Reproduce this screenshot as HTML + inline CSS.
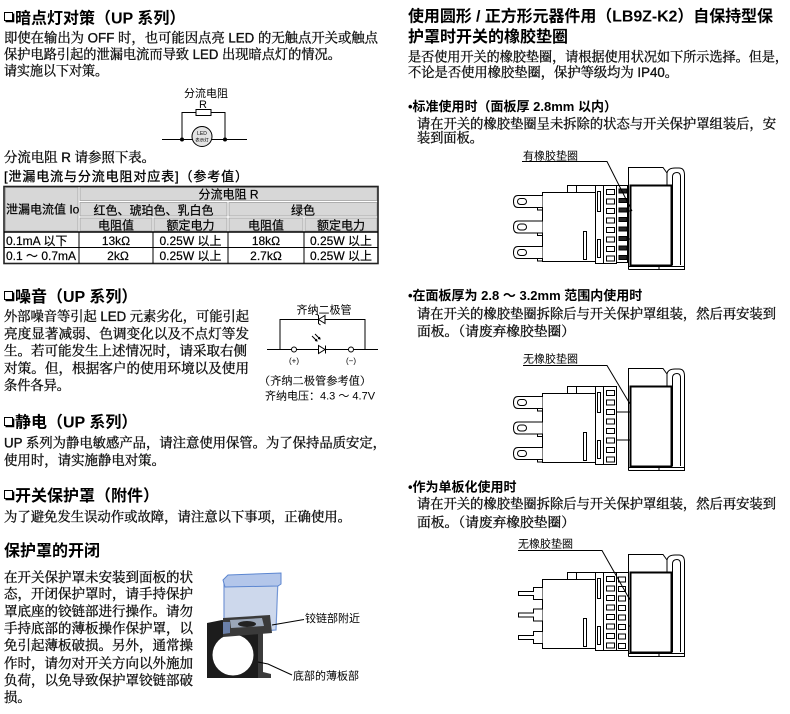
<!DOCTYPE html>
<html><head><meta charset="utf-8">
<style>
html,body{margin:0;padding:0;background:#fff;}
svg{display:block;}
.b{font-family:"Liberation Sans","Noto Serif CJK SC",serif;font-size:13.4px;fill:#111;stroke:#111;stroke-width:0.35px;}
.h{font-family:"Liberation Sans","Noto Sans CJK SC",sans-serif;font-size:16px;font-weight:bold;fill:#000;}
.s{font-family:"Liberation Sans","Noto Sans CJK SC",sans-serif;font-size:13px;font-weight:bold;fill:#000;}
.l{font-family:"Liberation Sans","Noto Sans CJK SC",sans-serif;font-size:11px;fill:#000;}
.t{font-family:"Liberation Sans","Noto Sans CJK SC",sans-serif;font-size:12px;fill:#000;stroke:#000;stroke-width:0.2px;}
.m{text-anchor:middle;}
</style></head><body>
<svg width="790" height="714" viewBox="0 0 790 714" xmlns="http://www.w3.org/2000/svg">
<rect width="790" height="714" fill="#fff"/>

<!-- ===== LEFT COLUMN ===== -->
<g fill="#fff" stroke="#000">
 <rect x="4.5" y="12.5" width="8" height="8"/><path d="M13.5,13.5 V21.5 H5.5" fill="none" stroke-width="1.6"/>
 <rect x="4.5" y="291.5" width="8" height="8"/><path d="M13.5,292.5 V300.5 H5.5" fill="none" stroke-width="1.6"/>
 <rect x="4.5" y="417.5" width="8" height="8"/><path d="M13.5,418.5 V426.5 H5.5" fill="none" stroke-width="1.6"/>
 <rect x="4.5" y="490.5" width="8" height="8"/><path d="M13.5,491.5 V499.5 H5.5" fill="none" stroke-width="1.6"/>
</g>

<text class="h" x="15" y="23.5">暗点灯对策（UP 系列）</text>
<text class="b" x="4" y="42.6" textLength="374" lengthAdjust="spacingAndGlyphs">即使在输出为 OFF 时，也可能因点亮 LED 的无触点开关或触点</text>
<text class="b" x="4" y="59.1" textLength="337" lengthAdjust="spacingAndGlyphs">保护电路引起的泄漏电流而导致 LED 出现暗点灯的情况。</text>
<text class="b" x="4" y="75.6" textLength="104" lengthAdjust="spacingAndGlyphs">请实施以下对策。</text>

<!-- shunt resistor circuit -->
<text class="l m" x="206" y="97">分流电阻</text>
<text class="l m" x="203" y="108">R</text>
<g stroke="#000" stroke-width="1" fill="none">
 <path d="M162,139.5 H247"/>
 <path d="M182,139.5 V112.5 H196 M211,112.5 H225 V139.5"/>
 <rect x="196" y="109.5" width="15" height="6" fill="#fff"/>
 <circle cx="202" cy="136.5" r="10" fill="#e4e4e4"/>
</g>
<circle cx="182" cy="139.5" r="2" fill="#000"/>
<circle cx="225" cy="139.5" r="2" fill="#000"/>
<text x="202" y="135" font-size="5" text-anchor="middle" font-family="Liberation Sans, sans-serif">LED</text>
<text x="202" y="141.5" font-size="4.5" text-anchor="middle" font-family="Liberation Sans, Noto Sans CJK SC, sans-serif">表示灯</text>

<text class="b" x="4" y="162" textLength="151" lengthAdjust="spacingAndGlyphs">分流电阻 R 请参照下表。</text>
<text x="4" y="181" font-family="Liberation Sans, Noto Sans CJK SC, sans-serif" font-size="13" fill="#000" stroke="#000" stroke-width="0.3" textLength="244" lengthAdjust="spacing">[泄漏电流与分流电阻对应表]（参考值）</text>

<!-- table -->
<g>
 <rect x="4" y="186.5" width="374" height="77" fill="#fff"/>
 <g fill="#d7d7d7" stroke="#a0a0a0" stroke-width="0.8">
  <rect x="5.5" y="187.5" width="72.5" height="43.5"/>
  <rect x="80" y="187.5" width="297" height="13"/>
  <rect x="80" y="202.5" width="147" height="13.5"/>
  <rect x="229" y="202.5" width="148" height="13.5"/>
  <rect x="80" y="218" width="72" height="13"/>
  <rect x="154" y="218" width="73" height="13"/>
  <rect x="229" y="218" width="74" height="13"/>
  <rect x="305" y="218" width="72" height="13"/>
 </g>
 <g stroke="#000" fill="none">
  <rect x="4" y="186.5" width="374" height="77" stroke="#222" stroke-width="1.6"/>
  <line x1="4" y1="232" x2="378" y2="232" stroke-width="1.5"/>
  <line x1="4" y1="247.5" x2="378" y2="247.5" stroke-width="1"/>
  <line x1="79" y1="232" x2="79" y2="263.5"/>
  <line x1="153" y1="232" x2="153" y2="263.5"/>
  <line x1="228" y1="232" x2="228" y2="263.5"/>
  <line x1="304" y1="232" x2="304" y2="263.5"/>
 </g>
 <text class="t" x="6" y="213.5">泄漏电流值 Io</text>
 <text class="t m" x="228.5" y="198.3">分流电阻 R</text>
 <text class="t m" x="153.5" y="214.3">红色、琥珀色、乳白色</text>
 <text class="t m" x="303" y="214.3">绿色</text>
 <text class="t m" x="116" y="229.6">电阻值</text>
 <text class="t m" x="190.5" y="229.6">额定电力</text>
 <text class="t m" x="266" y="229.6">电阻值</text>
 <text class="t m" x="341" y="229.6">额定电力</text>
 <text class="t" x="6" y="244.8">0.1mA 以下</text>
 <text class="t m" x="116" y="244.8">13kΩ</text>
 <text class="t m" x="190.5" y="244.8">0.25W 以上</text>
 <text class="t m" x="266" y="244.8">18kΩ</text>
 <text class="t m" x="341" y="244.8">0.25W 以上</text>
 <text class="t" x="6" y="259.8">0.1 ～ 0.7mA</text>
 <text class="t m" x="118" y="259.8">2kΩ</text>
 <text class="t m" x="190.5" y="259.8">0.25W 以上</text>
 <text class="t m" x="266" y="259.8">2.7kΩ</text>
 <text class="t m" x="341" y="259.8">0.25W 以上</text>
</g>

<!-- noise -->
<text class="h" x="15" y="302">噪音（UP 系列）</text>
<text class="b" x="4" y="321" textLength="245" lengthAdjust="spacingAndGlyphs">外部噪音等引起 LED 元素劣化，可能引起</text>
<text class="b" x="4" y="338.5" textLength="245" lengthAdjust="spacingAndGlyphs">亮度显著减弱、色调变化以及不点灯等发</text>
<text class="b" x="4" y="355.5" textLength="243" lengthAdjust="spacingAndGlyphs">生。若可能发生上述情况时，请采取右侧</text>
<text class="b" x="4" y="373" textLength="245" lengthAdjust="spacingAndGlyphs">对策。但，根据客户的使用环境以及使用</text>
<text class="b" x="4" y="390" textLength="66" lengthAdjust="spacingAndGlyphs">条件各异。</text>

<!-- zener circuit -->
<text class="l m" x="324" y="313.5">齐纳二极管</text>
<g stroke="#000" stroke-width="1" fill="none">
 <path d="M267,349.5 H378"/>
 <path d="M280,349.5 V319.5 H365 V349.5"/>
 <polygon points="318.5,319.5 325,315.5 325,323.5" fill="#fff"/>
 <path d="M316.5,314 L318.5,315.5 V323.5 L320.5,325"/>
 <polygon points="318.5,345.5 318.5,353.5 325,349.5" fill="#fff"/>
 <path d="M325.5,345.5 V353.5"/>
 <path d="M312,336 L317,341 M315,334 L320,339"/>
 <path d="M315,340.5 L317,341 L316.5,339 M318,338.5 L320,339 L319.5,337"/>
 <circle cx="294" cy="349.5" r="2.5" fill="#fff"/>
 <circle cx="351" cy="349.5" r="2.5" fill="#fff"/>
</g>
<text x="294" y="363.5" font-size="8" text-anchor="middle" font-family="Liberation Sans, sans-serif">(+)</text>
<text x="351" y="363.5" font-size="8" text-anchor="middle" font-family="Liberation Sans, sans-serif">(−)</text>
<text class="b" x="259" y="384.7" style="font-size:11px;stroke-width:0.25px" textLength="112" lengthAdjust="spacing">（齐纳二极管参考值）</text>
<text class="l" x="265" y="399.5">齐纳电压：4.3 ～ 4.7V</text>

<!-- static -->
<text class="h" x="15" y="427.5">静电（UP 系列）</text>
<text class="b" x="4" y="447.5" textLength="382" lengthAdjust="spacingAndGlyphs">UP 系列为静电敏感产品，请注意使用保管。为了保持品质安定，</text>
<text class="b" x="4" y="465" textLength="161" lengthAdjust="spacingAndGlyphs">使用时，请实施静电对策。</text>

<!-- cover -->
<text class="h" x="15" y="501">开关保护罩（附件）</text>
<text class="b" x="4" y="521.5" textLength="347" lengthAdjust="spacingAndGlyphs">为了避免发生误动作或故障，请注意以下事项，正确使用。</text>

<text class="h" x="4" y="556">保护罩的开闭</text>
<text class="b" x="4" y="581.8" textLength="189" lengthAdjust="spacingAndGlyphs">在开关保护罩未安装到面板的状</text>
<text class="b" x="4" y="598.4" textLength="189" lengthAdjust="spacingAndGlyphs">态，开闭保护罩时，请手持保护</text>
<text class="b" x="4" y="616.1" textLength="189" lengthAdjust="spacingAndGlyphs">罩底座的铰链部进行操作。请勿</text>
<text class="b" x="4" y="632.8" textLength="189" lengthAdjust="spacingAndGlyphs">手持底部的薄板操作保护罩，以</text>
<text class="b" x="4" y="650.1" textLength="189" lengthAdjust="spacingAndGlyphs">免引起薄板破损。另外，通常操</text>
<text class="b" x="4" y="667.8" textLength="189" lengthAdjust="spacingAndGlyphs">作时，请勿对开关方向以外施加</text>
<text class="b" x="4" y="685.1" textLength="189" lengthAdjust="spacingAndGlyphs">负荷，以免导致保护罩铰链部破</text>
<text class="b" x="4" y="701.8">损。</text>

<!-- photo of cover -->
<g>
 <path d="M207,623 L222,620 L258,626 L258,678 L207,678 Z" fill="#1c1c1c"/>
 <circle cx="233" cy="655" r="20.5" fill="#fff"/>
 <path d="M258,626 L263,624 L263,672 L271,674 L271,678 L258,678 Z" fill="#3c3c3c"/>
 <path d="M224,582 L278,578 L276,630 L224,634 Z" fill="#cdd8ec" stroke="#7497d6" stroke-width="1.2"/>
 <path d="M223,580 L228,575 L281,573 L281,584 L278,586 L225,587 Z" fill="#b3c6ea" stroke="#5c86d0"/>
 <path d="M223,618 L270,615 L272,633 L223,637 Z" fill="#3a3a3a"/>
 <path d="M230,620 L262,618 L264,626 L231,628 Z" fill="#9aa6b8"/>
 <ellipse cx="247" cy="624" rx="9" ry="3" fill="#222"/>
 <path d="M223,622 L223,634 L230,633 L230,622 Z" fill="#6a7fa8"/>
</g>
<g stroke="#000" stroke-width="1" fill="none">
 <path d="M272,625 L304,619.5"/>
 <path d="M258,662 L268,664 L292,675"/>
</g>
<text class="l" x="305" y="622.2">铰链部附近</text>
<text class="l" x="293" y="679.7">底部的薄板部</text>

<!-- ===== RIGHT COLUMN ===== -->
<text class="h" x="408" y="21.6" textLength="365" lengthAdjust="spacing">使用圆形 / 正方形元器件用（LB9Z-K2）自保持型保</text>
<text class="h" x="408" y="42">护罩时开关的橡胶垫圈</text>
<text class="b" x="408" y="61.4" textLength="380" lengthAdjust="spacingAndGlyphs">是否使用开关的橡胶垫圈，请根据使用状况如下所示选择。但是，</text>
<text class="b" x="408" y="77.1" textLength="270" lengthAdjust="spacingAndGlyphs">不论是否使用橡胶垫圈，保护等级均为 IP40。</text>

<text class="s" x="408" y="111">•标准使用时（面板厚 2.8mm 以内）</text>
<text class="b" x="417" y="128.4" textLength="359" lengthAdjust="spacingAndGlyphs">请在开关的橡胶垫圈呈未拆除的状态与开关保护罩组装后，安</text>
<text class="b" x="417" y="142.6" textLength="66" lengthAdjust="spacingAndGlyphs">装到面板。</text>

<text class="l" x="523" y="159.6">有橡胶垫圈</text>

<text class="s" x="408" y="300">•在面板厚为 2.8 ～ 3.2mm 范围内使用时</text>
<text class="b" x="417" y="318.4" textLength="359" lengthAdjust="spacingAndGlyphs">请在开关的橡胶垫圈拆除后与开关保护罩组装，然后再安装到</text>
<text class="b" x="417" y="336" textLength="158" lengthAdjust="spacingAndGlyphs">面板。（请废弃橡胶垫圈）</text>

<text class="l" x="523" y="362.5">无橡胶垫圈</text>

<text class="s" x="408" y="491.3">•作为单板化使用时</text>
<text class="b" x="417" y="508.4" textLength="359" lengthAdjust="spacingAndGlyphs">请在开关的橡胶垫圈拆除后与开关保护罩组装，然后再安装到</text>
<text class="b" x="417" y="526.8" textLength="158" lengthAdjust="spacingAndGlyphs">面板。（请废弃橡胶垫圈）</text>

<text class="l" x="518" y="547.5">无橡胶垫圈</text>

<defs>
 <g id="dv" stroke="#000" stroke-width="1" fill="none">
  <path d="M667,374 Q668,369 675,369 H679 Q684.5,369 684.5,376 V470.5 H628.5" fill="#fff"/>
  <path d="M628.5,470.5 V368.5 H663 L667,374 V386" fill="#fff"/>
  <path d="M672.5,466 V378 Q672.5,373.5 677,373.5 Q680.5,373.5 680.5,378 V466"/>
  <path d="M628.5,467.5 H684.5 M659,467.5 V470.5"/>
  <rect x="630.5" y="386.5" width="41" height="80" stroke-width="2" fill="#fff"/>
  <rect x="595.5" y="386.5" width="21" height="78" fill="#fff"/>
  <line x1="603.5" y1="386.5" x2="603.5" y2="464.5"/>
  <rect x="606.5" y="390.5" width="8" height="5"/>
  <rect x="606.5" y="400" width="8" height="5"/>
  <rect x="606.5" y="409.5" width="8" height="5"/>
  <rect x="606.5" y="419" width="8" height="5"/>
  <rect x="606.5" y="428.5" width="8" height="5"/>
  <rect x="606.5" y="438" width="8" height="5"/>
  <rect x="606.5" y="447.5" width="8" height="5"/>
  <rect x="606.5" y="457" width="8" height="5"/>
  <line x1="616.5" y1="412" x2="630.5" y2="412"/>
  <line x1="616.5" y1="440" x2="630.5" y2="440"/>
  <rect x="542.5" y="393.5" width="53" height="69" fill="#fff"/>
  <path d="M567.5,393.5 V386.5 H595.5 M576.5,386.5 V393.5"/>
  <rect x="583.5" y="432.5" width="3" height="28"/>
  <rect x="597.5" y="392.5" width="3" height="20"/>
  <rect x="597.5" y="440.5" width="3" height="18"/>
 </g>
 <g id="tm" stroke="#000" stroke-width="1" fill="#fff">
  <path d="M542.5,396.5 H518 Q513.5,396.5 513.5,402.5 Q513.5,408.5 518,408.5 H542.5"/>
  <rect x="517.5" y="399.5" width="9" height="6" rx="3" fill="none"/>
  <path d="M542.5,422 H518 Q513.5,422 513.5,428 Q513.5,434 518,434 H542.5"/>
  <rect x="517.5" y="425" width="9" height="6" rx="3" fill="none"/>
  <path d="M542.5,447.5 H518 Q513.5,447.5 513.5,453.5 Q513.5,459.5 518,459.5 H542.5"/>
  <rect x="517.5" y="450.5" width="9" height="6" rx="3" fill="none"/>
  <path d="M537.5,408.5 V411 H542.5 M537.5,434 V436.5 H542.5 M537.5,459.5 V462 H542.5" fill="none"/>
 </g>
</defs>

<!-- device 1 -->
<use href="#dv" transform="translate(0,-201)"/>
<use href="#tm" transform="translate(0,-201)"/>
<g stroke="#000" stroke-width="1">
 <rect x="616.5" y="185.5" width="11" height="77" fill="#fff"/>
 <rect x="619" y="189" width="8" height="4" fill="#222"/>
 <rect x="619" y="198.5" width="8" height="4" fill="#222"/>
 <rect x="619" y="208" width="8" height="4" fill="#222"/>
 <rect x="619" y="217.5" width="8" height="4" fill="#222"/>
 <rect x="619" y="227" width="8" height="4" fill="#222"/>
 <rect x="619" y="236.5" width="8" height="4" fill="#222"/>
 <rect x="619" y="246" width="8" height="4" fill="#222"/>
 <rect x="619" y="255.5" width="8" height="4" fill="#222"/>
</g>
<path d="M522,161.5 H607 L632,211" stroke="#000" stroke-width="1" fill="none"/>

<!-- device 2 -->
<use href="#dv"/>
<use href="#tm"/>
<path d="M523,365.5 H607 L630,404" stroke="#000" stroke-width="1" fill="none"/>

<!-- device 3 -->
<use href="#dv" transform="translate(0,186)"/>
<g stroke="#000" stroke-width="1" fill="#fff">
 <rect x="616.5" y="572.5" width="12" height="78"/>
 <rect x="618.5" y="577" width="7" height="5"/>
 <rect x="618.5" y="586.5" width="7" height="5"/>
 <rect x="618.5" y="596" width="7" height="5"/>
 <rect x="618.5" y="605.5" width="7" height="5"/>
 <rect x="618.5" y="615" width="7" height="5"/>
 <rect x="618.5" y="624.5" width="7" height="5"/>
 <rect x="618.5" y="634" width="7" height="5"/>
 <rect x="618.5" y="643.5" width="7" height="5"/>
 <path d="M542.5,587.5 H533.5 V591.5 H518.5 V595.5 H533.5 V599.5 H542.5"/>
 <path d="M542.5,609 H533.5 V613 H518.5 V617 H533.5 V621 H542.5"/>
 <path d="M542.5,631.5 H533.5 V635.5 H518.5 V639.5 H533.5 V643.5 H542.5"/>
</g>
<path d="M518,550.5 H602 L630,600" stroke="#000" stroke-width="1" fill="none"/>

</svg>
</body></html>
